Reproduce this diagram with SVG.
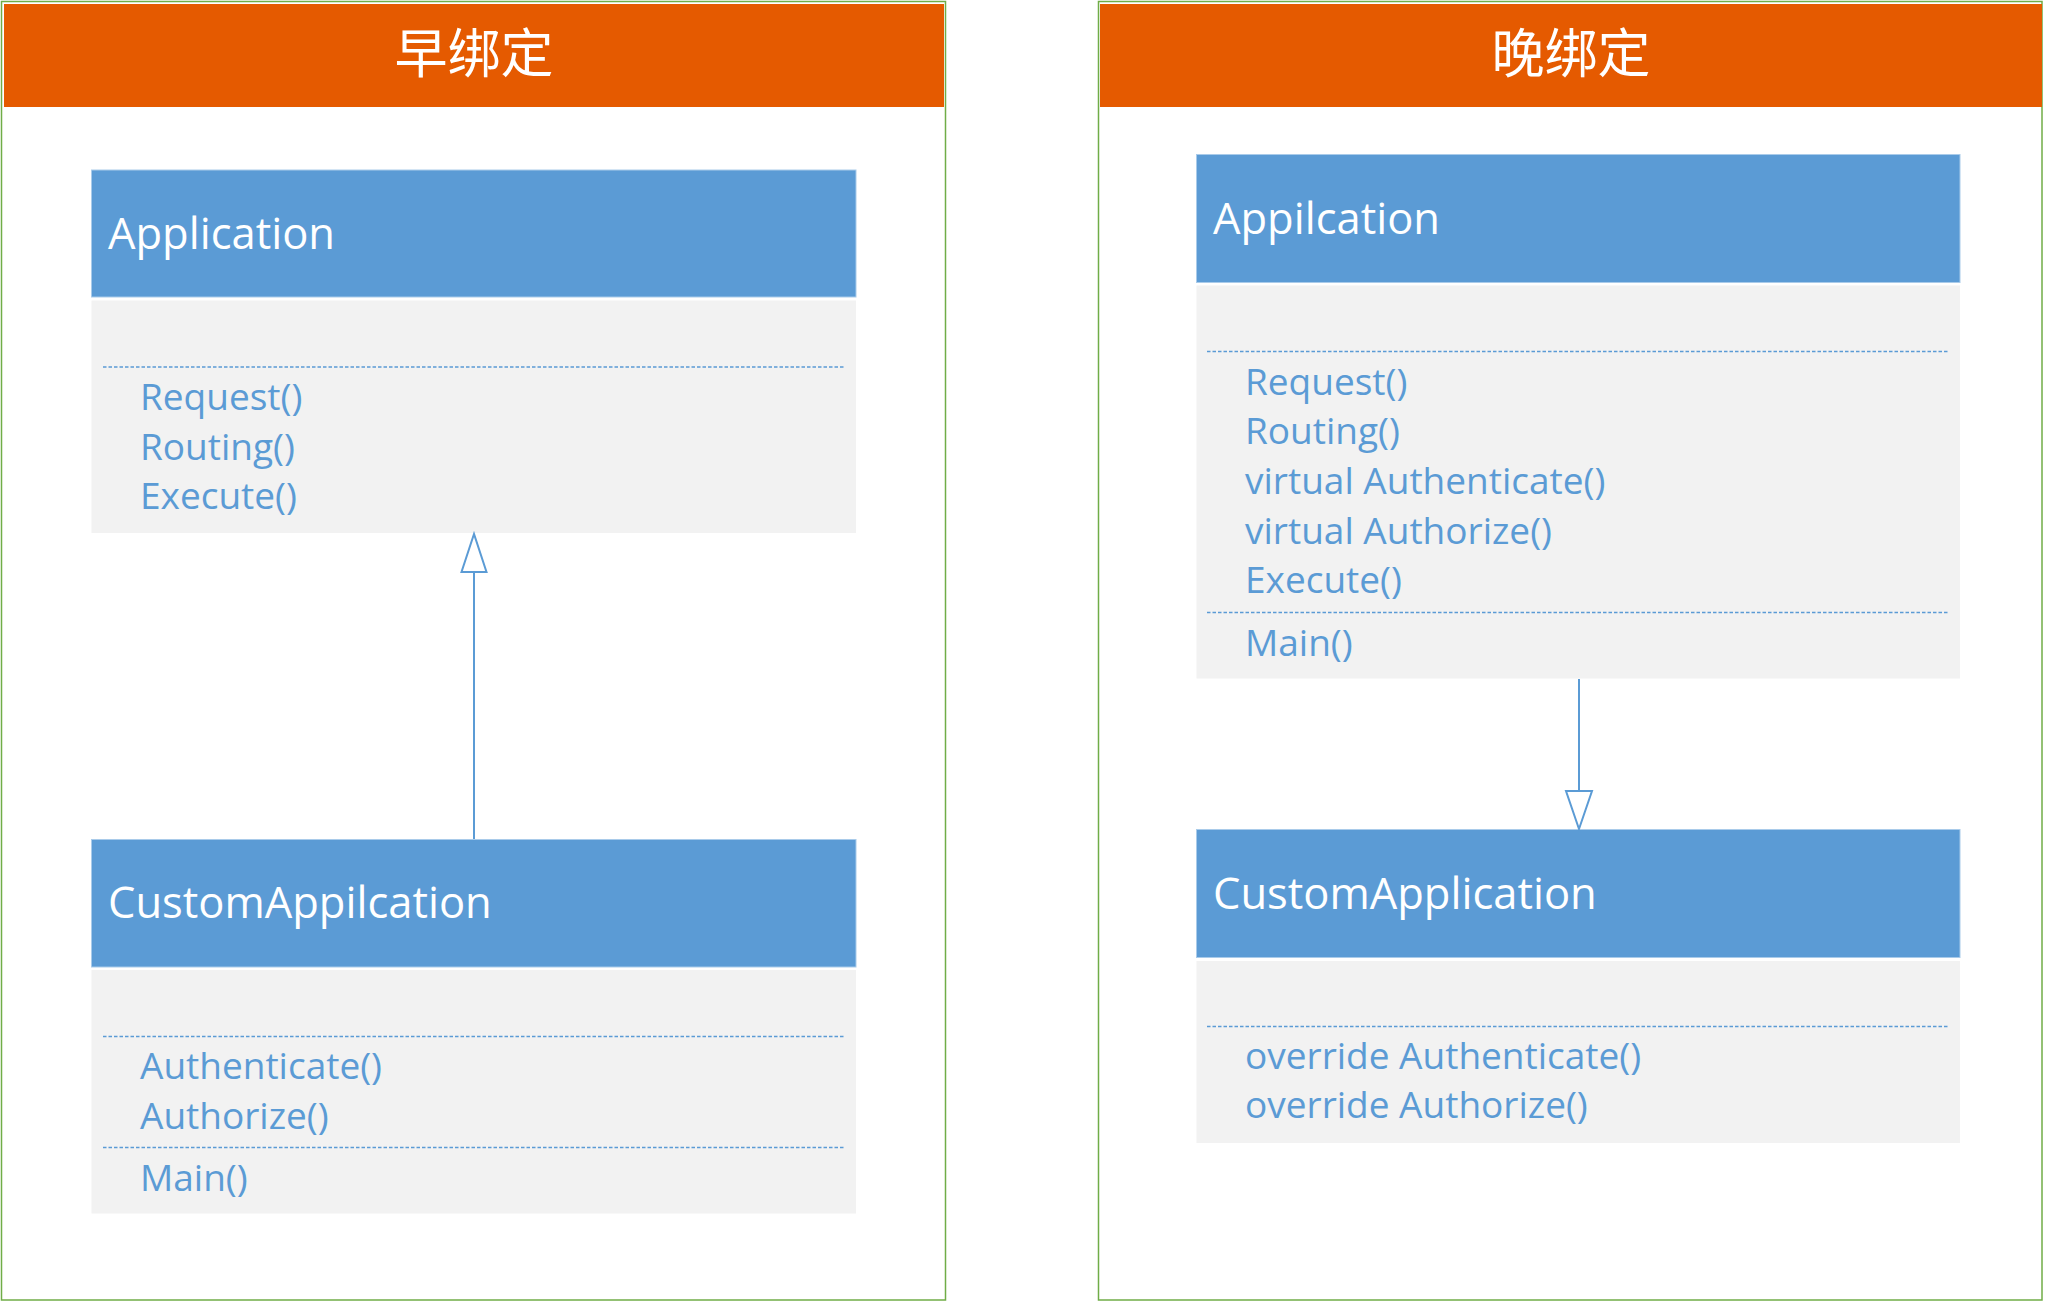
<svg xmlns="http://www.w3.org/2000/svg" width="2045" height="1303" viewBox="0 0 2045 1303">
  <defs>
    <style>
      .frame { fill: #FFFFFF; stroke: #70AD47; stroke-width: 1.5; }
      .banner { fill: #E55A00; }
      .banner-text { font-family: "Noto Sans CJK SC", "Noto Sans", sans-serif; font-size: 53px; fill: #FFFFFF; text-anchor: middle; }
      .head { fill: #5B9BD5; stroke: #A9CBEA; stroke-width: 1; }
      .body { fill: #F2F2F2; }
      .title { font-family: "Open Sans", "Liberation Sans", sans-serif; font-size: 43.5px; fill: #FFFFFF; }
      .member { font-family: "Open Sans", "Liberation Sans", sans-serif; font-size: 37px; fill: #5B9BD5; }
      .sep { stroke: #5B9BD5; stroke-width: 1.6; stroke-dasharray: 3.5 2; fill: none; }
      .conn { stroke: #5B9BD5; stroke-width: 2; fill: none; }
      .tri { fill: #FFFFFF; stroke: #5B9BD5; stroke-width: 2; stroke-linejoin: miter; }
    </style>
  </defs>

  <rect width="2045" height="1303" fill="#FFFFFF"/>

  <!-- Panels -->
  <g id="panel-early">
    <rect class="frame" x="1.5" y="1.5" width="944" height="1298.5"/>
    <rect class="banner" x="4" y="4" width="940" height="103"/>
    <text class="banner-text" x="474" y="73">早绑定</text>
  </g>
  <g id="panel-late">
    <rect class="frame" x="1098.5" y="1.5" width="943.5" height="1298.5"/>
    <rect class="banner" x="1100" y="4" width="942" height="103"/>
    <text class="banner-text" x="1571" y="73">晚绑定</text>
  </g>

  <!-- Left: Application -->
  <g id="early-application">
    <rect class="head" x="91.5" y="170" width="764.5" height="127"/>
    <rect class="body" x="91.5" y="300.5" width="764.5" height="232.5"/>
    <text class="title" x="108" y="249">Application</text>
    <line class="sep" x1="103" y1="367" x2="845" y2="367"/>
    <text class="member" x="140" y="410">Request()</text>
    <text class="member" x="140" y="459.5">Routing()</text>
    <text class="member" x="140" y="509">Execute()</text>
  </g>

  <!-- Left: CustomAppilcation -->
  <g id="early-customappilcation">
    <rect class="head" x="91.5" y="839.5" width="764.5" height="127.5"/>
    <rect class="body" x="91.5" y="970" width="764.5" height="243.5"/>
    <text class="title" x="108" y="918">CustomAppilcation</text>
    <line class="sep" x1="103" y1="1036.5" x2="845" y2="1036.5"/>
    <text class="member" x="140" y="1079">Authenticate()</text>
    <text class="member" x="140" y="1128.5">Authorize()</text>
    <line class="sep" x1="103" y1="1147.5" x2="845" y2="1147.5"/>
    <text class="member" x="140" y="1190.5">Main()</text>
  </g>

  <!-- Right: Appilcation -->
  <g id="late-appilcation">
    <rect class="head" x="1196.5" y="154.5" width="763.5" height="128"/>
    <rect class="body" x="1196.5" y="285.5" width="763.5" height="393"/>
    <text class="title" x="1213" y="233.5">Appilcation</text>
    <line class="sep" x1="1207" y1="351.5" x2="1948" y2="351.5"/>
    <text class="member" x="1245" y="394.5">Request()</text>
    <text class="member" x="1245" y="444">Routing()</text>
    <text class="member" x="1245" y="494">virtual Authenticate()</text>
    <text class="member" x="1245" y="543.5">virtual Authorize()</text>
    <text class="member" x="1245" y="593">Execute()</text>
    <line class="sep" x1="1207" y1="612.5" x2="1948" y2="612.5"/>
    <text class="member" x="1245" y="655.5">Main()</text>
  </g>

  <!-- Right: CustomApplication -->
  <g id="late-customapplication">
    <rect class="head" x="1196.5" y="829.5" width="763.5" height="128"/>
    <rect class="body" x="1196.5" y="961" width="763.5" height="182"/>
    <text class="title" x="1213" y="908.5">CustomApplication</text>
    <line class="sep" x1="1207" y1="1026.5" x2="1948" y2="1026.5"/>
    <text class="member" x="1245" y="1069">override Authenticate()</text>
    <text class="member" x="1245" y="1118">override Authorize()</text>
  </g>

  <!-- Connectors -->
  <g id="connectors">
    <line class="conn" x1="474" y1="839" x2="474" y2="572"/>
    <polygon class="tri" points="474,534 461.5,572 486.5,572"/>
    <line class="conn" x1="1579" y1="679" x2="1579" y2="791"/>
    <polygon class="tri" points="1579,829 1566,791 1592,791"/>
  </g>
</svg>
